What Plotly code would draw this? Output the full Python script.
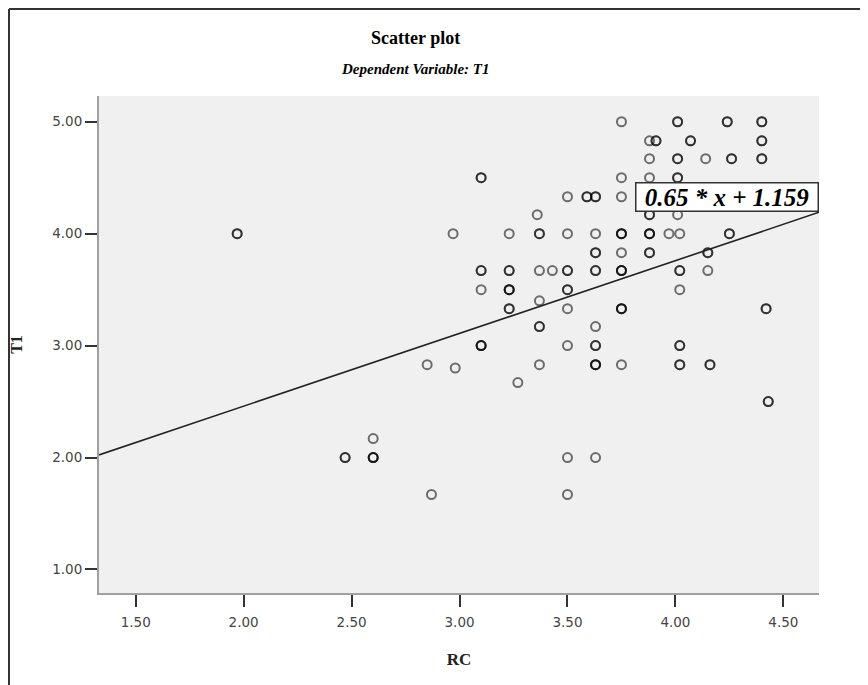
import plotly.graph_objects as go

# ---- data (RC, T1, number of overlapping cases) ----
rc = [1.97, 2.47, 2.60, 2.60, 2.85, 2.87, 2.97, 2.98,
      3.10, 3.10, 3.10, 3.10,
      3.23, 3.23, 3.23, 3.23, 3.27,
      3.36, 3.37, 3.37, 3.37, 3.37, 3.37, 3.43,
      3.50, 3.50, 3.50, 3.50, 3.50, 3.50, 3.50, 3.50,
      3.59, 3.63, 3.63, 3.63, 3.63, 3.63, 3.63, 3.63, 3.63,
      3.75, 3.75, 3.75, 3.75, 3.75, 3.75, 3.75, 3.75,
      3.88, 3.88, 3.88, 3.88, 3.88, 3.88, 3.91, 3.97,
      4.01, 4.01, 4.01, 4.01, 4.02, 4.02, 4.02, 4.02, 4.02,
      4.07, 4.14, 4.15, 4.15, 4.16,
      4.24, 4.25, 4.26,
      4.40, 4.40, 4.40, 4.42, 4.43]
t1 = [4.00, 2.00, 2.00, 2.17, 2.83, 1.67, 4.00, 2.80,
      4.50, 3.67, 3.50, 3.00,
      4.00, 3.67, 3.50, 3.33, 2.67,
      4.17, 4.00, 3.67, 3.40, 3.17, 2.83, 3.67,
      4.33, 4.00, 3.67, 3.50, 3.33, 3.00, 2.00, 1.67,
      4.33, 4.33, 4.00, 3.83, 3.67, 3.17, 3.00, 2.83, 2.00,
      5.00, 4.50, 4.33, 4.00, 3.83, 3.67, 3.33, 2.83,
      4.83, 4.67, 4.50, 4.17, 4.00, 3.83, 4.83, 4.00,
      5.00, 4.67, 4.50, 4.17, 4.00, 3.67, 3.50, 3.00, 2.83,
      4.83, 4.67, 3.83, 3.67, 2.83,
      5.00, 4.00, 4.67,
      5.00, 4.83, 4.67, 3.33, 2.50]
cnt = [2, 2, 3, 1, 1, 1, 1, 1,
       2, 2, 1, 3,
       1, 2, 3, 2, 1,
       1, 2, 1, 1, 2, 1, 1,
       1, 1, 2, 2, 1, 1, 1, 1,
       2, 2, 1, 2, 2, 1, 2, 3, 1,
       1, 1, 1, 3, 1, 3, 3, 1,
       1, 1, 1, 2, 3, 2, 2, 1,
       2, 2, 2, 1, 1, 2, 1, 2, 2,
       2, 1, 2, 1, 2,
       2, 2, 2,
       2, 2, 2, 2, 2]

slope = 0.65
intercept = 1.159
equation = "0.65 * x + 1.159"

x_ticks = [1.5, 2.0, 2.5, 3.0, 3.5, 4.0, 4.5]
y_ticks = [1.0, 2.0, 3.0, 4.0, 5.0]
x_range = [1.33, 4.665]
y_range = [0.79, 5.23]

# expand overlapping cases
px, py = [], []
for a, b, c in zip(rc, t1, cnt):
    for _ in range(c):
        px.append(a)
        py.append(b)

fig = go.Figure()
fig.add_trace(go.Scatter(
    x=px, y=py, mode="markers",
    marker=dict(symbol="circle-open", size=9, color="rgba(0,0,0,0.55)",
                line=dict(width=2)),
    showlegend=False, hoverinfo="skip"))

fig.add_trace(go.Scatter(
    x=x_range, y=[slope * v + intercept for v in x_range], mode="lines",
    line=dict(color="#222222", width=1.6), showlegend=False, hoverinfo="skip"))

fig.add_annotation(
    x=x_range[1], y=slope * x_range[1] + intercept, xref="x", yref="y",
    text="<b><i>" + equation + "</i></b>", showarrow=False,
    xanchor="right", yanchor="bottom", width=181, height=27, align="center",
    font=dict(family="Liberation Serif", size=25, color="black"),
    bgcolor="white", bordercolor="#333333", borderwidth=1.5, borderpad=0)

# plot area occupies page px 99..819 (x) and 96..593 (y)
fig.add_annotation(
    x=(415 - 99) / 720, y=(593 - 38) / 497, xref="paper", yref="paper",
    text="<b>Scatter plot</b>", showarrow=False,
    xanchor="center", yanchor="middle",
    font=dict(family="Liberation Serif", size=18, color="black"))
fig.add_annotation(
    x=(415 - 99) / 720, y=(593 - 69) / 497, xref="paper", yref="paper",
    text="<b><i>Dependent Variable: T1</i></b>", showarrow=False,
    xanchor="center", yanchor="middle",
    font=dict(family="Liberation Serif", size=15, color="black"))

# outer frame (top and left edges visible)
fig.add_shape(type="line", xref="paper", yref="paper",
              x0=(9 - 99) / 720, x1=(900 - 99) / 720,
              y0=(593 - 9) / 497, y1=(593 - 9) / 497,
              line=dict(color="#333333", width=2))
fig.add_shape(type="line", xref="paper", yref="paper",
              x0=(9 - 99) / 720, x1=(9 - 99) / 720,
              y0=(593 - 9) / 497, y1=(593 - 720) / 497,
              line=dict(color="#333333", width=2))

axis_common = dict(
    showgrid=False, zeroline=False, showline=True, linecolor="#A0A0A0",
    linewidth=2, ticks="outside", ticklen=12, tickwidth=2, tickcolor="#333333",
    automargin=False,
    tickfont=dict(family="DejaVu Sans", size=13.5, color="#444444"))

# page body has an 8px margin, so the figure is offset by 8px
fig.update_layout(
    width=860, height=677,
    margin=dict(l=91, r=49, t=88, b=92, autoexpand=False),
    plot_bgcolor="#F0F0F0", paper_bgcolor="white",
    xaxis=dict(range=x_range, tickvals=x_ticks,
               ticktext=[f"{v:.2f}" for v in x_ticks],
               ticklabelstandoff=4,
               title=dict(text="<b>RC</b>", standoff=24,
                          font=dict(family="Liberation Serif", size=17, color="#222")),
               **axis_common),
    yaxis=dict(range=y_range, tickvals=y_ticks,
               ticktext=[f"{v:.2f}" for v in y_ticks],
               title=dict(text="<b>T1</b>", standoff=34,
                          font=dict(family="Liberation Serif", size=16, color="#222")),
               **axis_common),
)

fig.write_html("out.html")
